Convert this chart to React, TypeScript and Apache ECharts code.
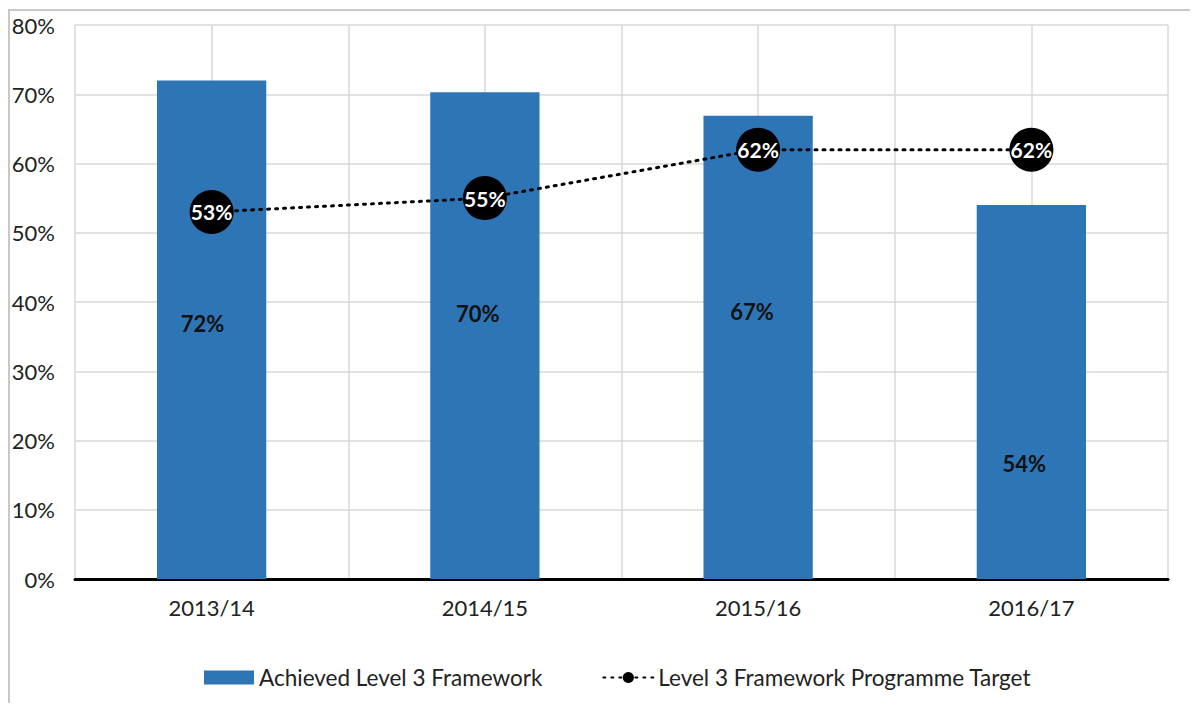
import React, { useEffect, useRef } from "react";
import * as echarts from "echarts";

const categories = ["2013/14", "2014/15", "2015/16", "2016/17"];
const achieved = [72, 70.3, 66.9, 54];
const achievedLabels = ["72%", "70%", "67%", "54%"];
const target = [53, 55, 62, 62];
const targetLabels = ["53%", "55%", "62%", "62%"];
const yTicks = [0, 10, 20, 30, 40, 50, 60, 70, 80];
const labelOffsets = [[-9, -6], [-7, -22], [-6, -36], [-7, 71]];

const FONT = "Lato, 'Noto Sans', sans-serif";

export default function App() {
  const ref = useRef<HTMLDivElement>(null);
  useEffect(() => {
    if (!ref.current) return;
    const chart = echarts.init(ref.current, undefined, { renderer: "svg" });
    chart.setOption({
      animation: false,
      textStyle: { fontFamily: FONT },
      graphic: [
        {
          type: "rect",
          shape: { x: 1, y: 2, width: 1300, height: 900 },
          style: { fill: "none", stroke: "#c8c8c8", lineWidth: 2 },
          silent: true,
        },
      ],
      legend: {
        left: 191,
        top: 653,
        itemWidth: 50,
        itemHeight: 14,
        itemGap: 60,
        textStyle: { fontFamily: FONT, fontSize: 22.5, color: "#222" },
        data: [
          { name: "Achieved Level 3 Framework", icon: "rect" },
          { name: "Level 3 Framework Programme Target" },
        ],
      },
      grid: { left: 67, right: 30, top: 17, bottom: 124, containLabel: false },
      xAxis: [
        {
          type: "category",
          data: categories,
          axisTick: { show: false },
          axisLine: { show: true, lineStyle: { color: "#000", width: 3 } },
          axisLabel: { fontSize: 22, color: "#222", margin: 17, fontFamily: FONT },
          splitLine: { show: false },
        },
        {
          type: "value",
          min: 0,
          max: categories.length,
          interval: 0.5,
          show: true,
          position: "top",
          axisLine: { show: false },
          axisTick: { show: false },
          axisLabel: { show: false },
          splitLine: { show: true, lineStyle: { color: "#d9d9d9", width: 1.5 } },
        },
      ],
      yAxis: {
        type: "value",
        min: yTicks[0],
        max: yTicks[yTicks.length - 1],
        interval: 10,
        axisLine: { show: false },
        axisTick: { show: false },
        axisLabel: {
          formatter: (v: number) => v + "%",
          fontSize: 22,
          color: "#222",
          margin: 20,
          fontFamily: FONT,
        },
        splitLine: { lineStyle: { color: "#d9d9d9", width: 1.5 } },
      },
      series: [
        {
          name: "Achieved Level 3 Framework",
          type: "bar",
          barWidth: "40%",
          itemStyle: { color: "#2e75b6" },
          data: achieved.map((v, i) => ({
            value: v,
            label: {
              show: true,
              position: "inside",
              offset: labelOffsets[i],
              formatter: achievedLabels[i],
              color: "#111",
              fontWeight: "bold",
              fontSize: 22,
              fontFamily: FONT,
            },
          })),
          z: 2,
        },
        {
          name: "Level 3 Framework Programme Target",
          type: "line",
          symbol: "circle",
          symbolSize: 44,
          itemStyle: { color: "#000" },
          lineStyle: { color: "#000", width: 3, type: [2, 6], cap: "round" },
          data: target,
          label: {
            show: true,
            position: "inside",
            formatter: (p: any) => targetLabels[p.dataIndex],
            color: "#fff",
            fontWeight: "bold",
            fontSize: 21,
            fontFamily: FONT,
          },
          z: 3,
        },
      ],
    });
    return () => chart.dispose();
  }, []);
  return <div ref={ref} style={{ width: 1190, height: 695 }} />;
}
